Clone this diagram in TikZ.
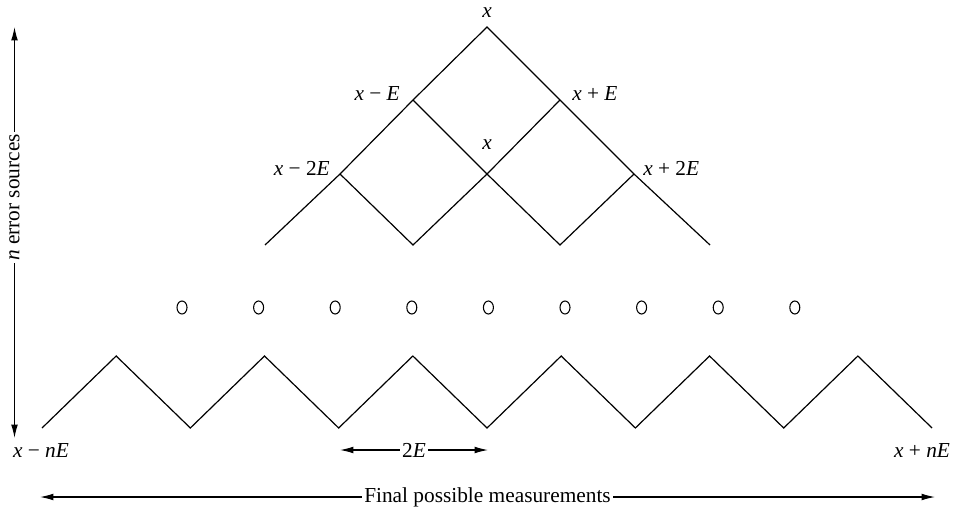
\documentclass[tikz,border=0pt]{standalone}
\usepackage{fontspec}
\setmainfont{Liberation Serif}
\usetikzlibrary{arrows.meta}

\tikzset{
  lattice/.style={line width=0.9pt,line join=miter},
  dimline/.style={line width=0.8pt,{Latex[length=10pt,width=5pt]}-{Latex[length=10pt,width=5pt]}},
  lab/.style={inner sep=0pt,font=\fontsize{16}{19}\selectfont},
  gap/.style={fill=white,inner sep=1.5pt,font=\fontsize{16}{19}\selectfont},
}

\begin{document}
\begin{tikzpicture}[x=0.75pt,y=-0.75pt]
\useasboundingbox (0,0) rectangle (962,510);

% spreading of the error
\coordinate (top) at (487,27);
\coordinate (l1) at (413,100);
\coordinate (r1) at (560,100);
\coordinate (l2) at (340,174);
\coordinate (mid) at (487,174);
\coordinate (r2) at (634,174);
\coordinate (b0) at (265,245);
\coordinate (b1) at (413,245);
\coordinate (b2) at (560,245);
\coordinate (b3) at (710,245);
\draw[lattice] (b0) -- (l2) -- (l1) -- (top) -- (r1) -- (r2) -- (b3);
\draw[lattice] (l1) -- (mid) -- (r1);
\draw[lattice] (l2) -- (b1) -- (mid) -- (b2) -- (r2);

\node[lab,anchor=base] (xtop) at (487,18) {\textit{x}};
\node[lab,anchor=base east] (xmE) at (400,100) {\textit{x} − \textit{E}};
\node[lab,anchor=base west] (xpE) at (572,100) {\textit{x} + \textit{E}};
\node[lab,anchor=base] (xmid) at (487,149) {\textit{x}};
\node[lab,anchor=base east] (xm2E) at (330,175) {\textit{x} − 2\textit{E}};
\node[lab,anchor=base west] (xp2E) at (643,175) {\textit{x} + 2\textit{E}};

% dots
\foreach \i in {0,...,8}
  \draw[line width=0.8pt] (182+76.6*\i,307.5) ellipse [x radius=5, y radius=6.5];

% final row
\foreach \k in {0,...,12} {
  \pgfmathsetmacro\zy{isodd(\k) ? 356 : 428}
  \coordinate (z\k) at (42+74.17*\k,\zy);
}
\draw[lattice] (z0) \foreach \k in {1,...,12} { -- (z\k) };

\node[lab,anchor=base] (xmnE) at (41,457) {\textit{x} − \textit{nE}};
\node[lab,anchor=base] (xpnE) at (922,457) {\textit{x} + \textit{nE}};

% dimensions
\coordinate (d1) at (340,450);
\coordinate (d2) at (488,450);
\draw[dimline] (d1) -- node[gap] (twoE) {2\textit{E}} (d2);

\coordinate (f1) at (40,497);
\coordinate (f2) at (935,497);
\draw[dimline] (f1) -- node[gap] (final) {Final possible measurements} (f2);

\coordinate (v1) at (14.5,27);
\coordinate (v2) at (14.5,438);
\draw[dimline] (v1) -- node[gap,rotate=90,pos=0.415] (nerr) {\textit{n} error sources} (v2);
\end{tikzpicture}
\end{document}
